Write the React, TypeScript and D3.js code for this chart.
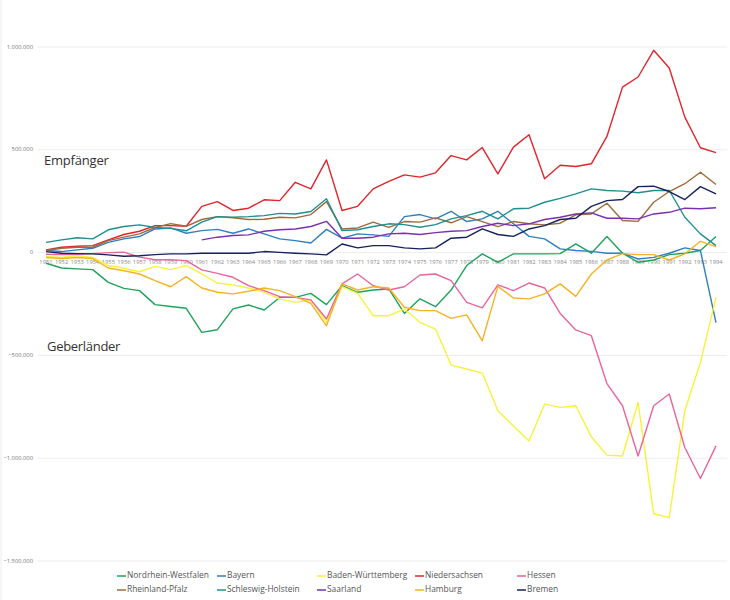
import * as d3 from 'd3';

const years = d3.range(1951, 1995).map(String);

// Values in Euro
const nordrheinWestfalen = [
  -52, -75, -79, -83, -145, -174, -185, -253, -262, -271, -388, -375, -274, -255, -279, -218, -218, -198, -253,
  -161, -193, -182, -177, -296, -225, -263, -182, -63, -6, -47, -6, -6, -6, -5, 42, -3, 78, -3, -47, -36, -10, -3, 10, 78,
];
const bayern = [
  10, 5, 13, 21, 50, 67, 78, 115, 120, 94, 107, 113, 94, 115, 91, 67, 58, 47, 113, 70, 91, 86, 79, 175, 185, 164,
  201, 151, 164, 201, 140, 79, 67, 18, 10, 6, -3, -3, -31, -23, -3, 23, 10, -341,
];
const badenWuerttemberg = [
  -19, -23, -15, -23, -63, -76, -93, -67, -83, -63, -104, -148, -157, -172, -193, -225, -242, -230, -339, -166,
  -198, -307, -307, -274, -339, -372, -547, -566, -586, -769, -843, -916, -737, -753, -745, -896, -985, -989, -729,
  -1270, -1289, -769, -534, -218,
];
const niedersachsen = [
  13, 26, 31, 34, 62, 88, 104, 131, 131, 128, 225, 248, 205, 216, 257, 253, 342, 310, 451, 205, 225, 310, 346, 378,
  367, 388, 472, 451, 511, 383, 513, 573, 359, 425, 419, 432, 565, 805, 854, 984, 898, 659, 510, 486,
];
const hessen = [
  -8, -10, -8, -5, 0, 2, -22, -35, -35, -39, -84, -101, -120, -161, -185, -214, -218, -230, -323, -152, -104, -161,
  -182, -166, -109, -104, -136, -242, -269, -157, -185, -148, -172, -296, -376, -404, -637, -745, -989, -745, -688,
  -948, -1099, -940,
];
const rheinlandPfalz = [
  10, 21, 26, 26, 58, 75, 91, 122, 141, 128, 161, 175, 169, 161, 162, 172, 169, 185, 248, 115, 120, 148, 123, 151,
  148, 169, 145, 175, 151, 126, 151, 140, 135, 143, 184, 188, 240, 156, 152, 245, 297, 335, 391, 331,
];
const schleswigHolstein = [
  50, 62, 72, 67, 111, 127, 135, 122, 118, 106, 148, 175, 172, 175, 180, 191, 188, 200, 262, 107, 111, 127, 140,
  136, 123, 136, 164, 180, 201, 164, 213, 216, 245, 264, 286, 310, 302, 299, 291, 302, 302, 172, 91, 34,
];
const saarland = [
  null, null, null, null, null, null, null, null, null, null, 62, 75, 83, 86, 104, 111, 115, 127, 152, 70, 70, 75,
  91, 94, 88, 97, 104, 107, 127, 143, 131, 140, 161, 172, 188, 193, 167, 167, 164, 188, 196, 216, 213, 218,
];
const hamburg = [
  -24, -29, -24, -29, -75, -88, -104, -136, -166, -117, -172, -193, -201, -188, -172, -185, -214, -247, -356, -152,
  -182, -166, -172, -266, -282, -282, -320, -303, -429, -164, -221, -225, -201, -152, -213, -104, -36, -5, -10, -10,
  -36, -6, 55, 29,
];
const bremen = [
  5, -3, -5, -6, -11, -18, -15, -10, -6, -6, -3, -3, -3, -3, 5, 1, -3, -6, -11, 42, 23, 34, 34, 23, 18, 23, 70, 75,
  115, 88, 79, 115, 131, 161, 167, 225, 253, 258, 321, 323, 297, 258, 321, 286,
];

const yTicks = [1000000, 500000, 0, -500000, -1000000, -1500000];

interface Series {
  name: string;
  color: string;
  values: (number | null)[];
}

// legend order: two rows of five
const series: Series[] = [
  { name: 'Nordrhein-Westfalen', color: '#1fa35a', values: nordrheinWestfalen },
  { name: 'Bayern', color: '#2f7fc1', values: bayern },
  { name: 'Baden-Württemberg', color: '#f7f23a', values: badenWuerttemberg },
  { name: 'Niedersachsen', color: '#e2242a', values: niedersachsen },
  { name: 'Hessen', color: '#e9659c', values: hessen },
  { name: 'Rheinland-Pfalz', color: '#9e6b3b', values: rheinlandPfalz },
  { name: 'Schleswig-Holstein', color: '#1f8f90', values: schleswigHolstein },
  { name: 'Saarland', color: '#7a30b0', values: saarland },
  { name: 'Hamburg', color: '#f5b324', values: hamburg },
  { name: 'Bremen', color: '#15225e', values: bremen },
];

const FONT = '"Open Sans", "Noto Sans", sans-serif';
const fmt = (v: number) => d3.format(',')(v).replace(/,/g, '.');

export default function App() {
  const width = 730;
  const height = 600;

  const x = d3.scalePoint<string>().domain(years).range([46, 716]);
  const y = d3.scaleLinear().domain([-1500000, 1000000]).range([561, 47]);

  const line = d3
    .line<number | null>()
    .defined((d) => d !== null)
    .x((_, i) => x(years[i]) ?? 0)
    .y((d) => y((d ?? 0) * 1000));

  const legendCols = [117, 217, 317, 415, 517];
  const legendRows = [576, 590];

  return (
    <svg
      width={width}
      height={height}
      style={{ position: 'absolute', left: 0, top: 0, background: '#fff' }}
      fontFamily={FONT}
    >
      <line x1={1} x2={1} y1={0} y2={height} stroke='#ececec' />

      {/* Grid + y labels */}
      {yTicks.map((t) => (
        <g key={t}>
          <line x1={38} x2={727} y1={y(t)} y2={y(t)} stroke='#ededed' strokeWidth={1} />
          <text x={33} y={y(t)} textAnchor='end' dominantBaseline='middle' fontSize={5.8} fill='#777'>
            {fmt(t)}
          </text>
        </g>
      ))}

      {/* Year labels */}
      {years.map((yr) => (
        <text key={yr} x={x(yr)} y={262} textAnchor='middle' dominantBaseline='middle' fontSize={5.8} fill='#888'>
          {yr}
        </text>
      ))}

      <text x={44} y={165} fontSize={13} letterSpacing={-0.2} fill='#333'>
        Empfänger
      </text>
      <text x={47} y={351} fontSize={13} letterSpacing={-0.3} fill='#333'>
        Geberländer
      </text>

      {/* Lines */}
      {series.map((s) => (
        <path key={s.name} d={line(s.values) ?? ''} fill='none' stroke={s.color} strokeWidth={1.4} strokeLinejoin='round' />
      ))}

      {/* Legend */}
      {series.map((s, i) => {
        const lx = legendCols[i % 5];
        const ly = legendRows[Math.floor(i / 5)];
        return (
          <g key={s.name}>
            <line x1={lx} x2={lx + 9} y1={ly} y2={ly} stroke={s.color} strokeWidth={1.5} />
            <text x={lx + 10} y={ly} dominantBaseline='middle' fontSize={8.4} fill='#555'>
              {s.name}
            </text>
          </g>
        );
      })}
    </svg>
  );
}
